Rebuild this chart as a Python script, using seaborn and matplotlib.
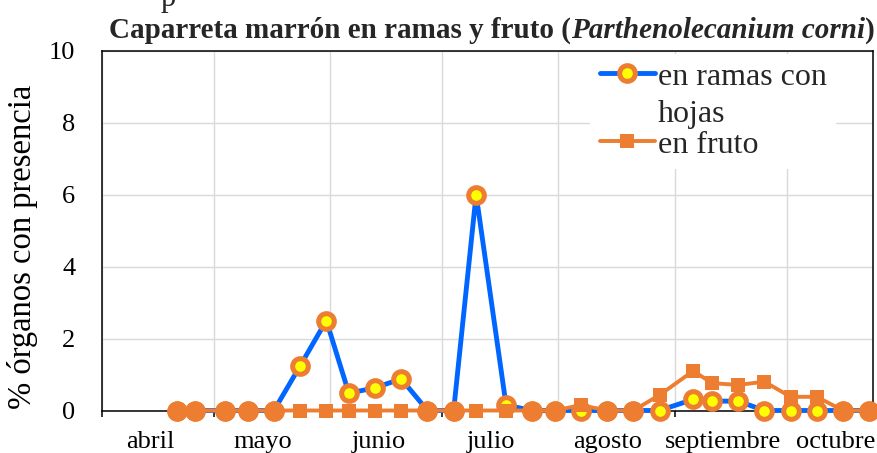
import matplotlib
matplotlib.use("Agg")
import matplotlib.pyplot as plt
import matplotlib.dates as mdates
import matplotlib.ticker as mticker
import numpy as np
import pandas as pd
import seaborn as sns

# ---------------- data ----------------
fechas = ["2021-04-21", "2021-04-26", "2021-05-04", "2021-05-10", "2021-05-17",
          "2021-05-24", "2021-05-31", "2021-06-06", "2021-06-13", "2021-06-20",
          "2021-06-27", "2021-07-04", "2021-07-10", "2021-07-18", "2021-07-25",
          "2021-07-31", "2021-08-07", "2021-08-14", "2021-08-21", "2021-08-28",
          "2021-09-06", "2021-09-11", "2021-09-18", "2021-09-25", "2021-10-02",
          "2021-10-09", "2021-10-16", "2021-10-23"]
en_ramas = [0, 0, 0, 0, 0, 1.24, 2.5, 0.48, 0.63, 0.88,
            0, 0, 6.0, 0.15, 0, 0, 0, 0, 0, 0,
            0.31, 0.26, 0.26, 0, 0, 0, 0, 0]
en_fruto = [0, 0, 0, 0, 0, 0, 0, 0, 0, 0,
            0, 0, 0, 0, 0, 0, 0.15, 0, 0, 0.43,
            1.1, 0.76, 0.71, 0.8, 0.38, 0.38, 0, 0]
meses = ["abril", "mayo", "junio", "julio", "agosto", "septiembre", "octubre"]
y_ticks = [0, 2, 4, 6, 8, 10]
titulo_a = "Caparreta marrón en ramas y fruto ("
titulo_b = "Parthenolecanium corni"
titulo_c = ")"
texto_cortado = "p"
etiqueta_y = "% órganos con presencia"
leyenda = ["en ramas con\nhojas", "en fruto"]

# ---------------- style ----------------
sns.set_theme(style="white")
plt.rcParams["font.family"] = ["Liberation Serif", "DejaVu Serif"]

AZUL = "#0066FF"
NARANJA = "#ED7D31"
AMARILLO = "#FFFF00"
GRIS = "#D9D9D9"

df = pd.DataFrame({"fecha": pd.to_datetime(fechas),
                   "ramas": en_ramas, "fruto": en_fruto})
ambos_cero = df[(df["ramas"] == 0) & (df["fruto"] == 0)]

W, H = 878, 453
fig = plt.figure(figsize=(W / 100, H / 100), dpi=100)
L, R, T, B = 101.7, 873.0, 50.5, 410.5
ax = fig.add_axes([L / W, 1 - B / H, (R - L) / W, (B - T) / H])

sns.lineplot(data=df, x="fecha", y="ramas", ax=ax, color=AZUL, linewidth=3.5,
             marker="o", markersize=11.3, markerfacecolor=AMARILLO,
             markeredgecolor=NARANJA, markeredgewidth=3.6, clip_on=False,
             zorder=3)
sns.lineplot(data=df, x="fecha", y="fruto", ax=ax, color=NARANJA, linewidth=2.8,
             marker="s", markersize=10, markerfacecolor=NARANJA,
             markeredgecolor=NARANJA, markeredgewidth=0, clip_on=False,
             zorder=4)
sns.scatterplot(data=ambos_cero, x="fecha", y="ramas", ax=ax, color=NARANJA,
                s=205, linewidth=0, clip_on=False, zorder=5)

# ---------------- axes ----------------
ax.set_xlim(pd.Timestamp("2021-04-01"), pd.Timestamp("2021-10-24"))
ax.set_ylim(0, 10)
ax.set_yticks(y_ticks)
ax.set_yticklabels([str(v) for v in y_ticks])

ax.xaxis.set_major_locator(mdates.MonthLocator())
ax.xaxis.set_major_formatter(mticker.NullFormatter())
ax.xaxis.set_minor_locator(mdates.MonthLocator(bymonthday=14))
ax.xaxis.set_minor_formatter(mticker.FuncFormatter(
    lambda v, pos: meses[mdates.num2date(v).month - 4]))

ax.tick_params(axis="x", which="major", length=4.5, width=1.1, color="black",
               direction="out", bottom=True)
ax.tick_params(axis="x", which="minor", length=0, pad=14.5, labelsize=19,
               labelcolor="black")
ax.tick_params(axis="y", length=0, pad=19, labelsize=19, labelcolor="black")

ax.grid(True, axis="y", color=GRIS, linewidth=1.0)
ax.grid(True, axis="x", which="major", color=GRIS, linewidth=1.0)
ax.set_axisbelow(True)
for s in ax.spines.values():
    s.set_visible(True)
    s.set_color("black")
    s.set_linewidth(1.1)
    s.set_zorder(2.5)

ax.set_xlabel("")
ax.set_ylabel(etiqueta_y, fontsize=23.5, color="black")
ax.yaxis.label.set(rotation_mode="default", va="center", ha="center")
ax.yaxis.set_label_coords((22.5 - L) / (R - L), (B - 246.5) / (B - T))

# ---------------- legend ----------------
leg = ax.legend(handles=[ax.lines[0], ax.lines[1]], labels=leyenda,
                loc="upper left", bbox_to_anchor=(590 / W, 1 - 53.5 / H),
                bbox_transform=fig.transFigure, fontsize=23, frameon=True,
                framealpha=1, facecolor="white", edgecolor="none",
                fancybox=False, handlelength=1.72, handletextpad=0.1,
                borderpad=0.3, labelspacing=0.04, borderaxespad=0)
leg.set_zorder(6)
for t in leg.get_texts():
    t.set_linespacing(1.36)

# ---------------- title ----------------
fig.canvas.draw()
rend = fig.canvas.get_renderer()
ty = 1 - 38 / H
partes = [fig.text(0, ty, titulo_a, fontsize=21, fontweight="bold", va="baseline"),
          fig.text(0, ty, titulo_b, fontsize=21, fontweight="bold",
                   fontstyle="italic", va="baseline"),
          fig.text(0, ty, titulo_c, fontsize=21, fontweight="bold", va="baseline")]
anchos = [p.get_window_extent(rend).width for p in partes]
x = 491.5 - sum(anchos) / 2
for p, w in zip(partes, anchos):
    p.set_x(x / W)
    x += w

fig.text(161 / W, 1 - 6 / H, texto_cortado, fontsize=22, va="baseline")

# align first legend handle with the first line of its two-line label
bb_t = leg.get_texts()[0].get_window_extent(rend)
hnd = leg.legend_handles[0]
bb_h = hnd.get_window_extent(rend)
desplazamiento = ((bb_t.y1 - 10.2) - (bb_h.y0 + bb_h.y1) / 2) * 72 / fig.dpi
hnd.set_ydata(np.asarray(hnd.get_ydata(), dtype=float) + desplazamiento)

fig.savefig("out.png", dpi=100)
